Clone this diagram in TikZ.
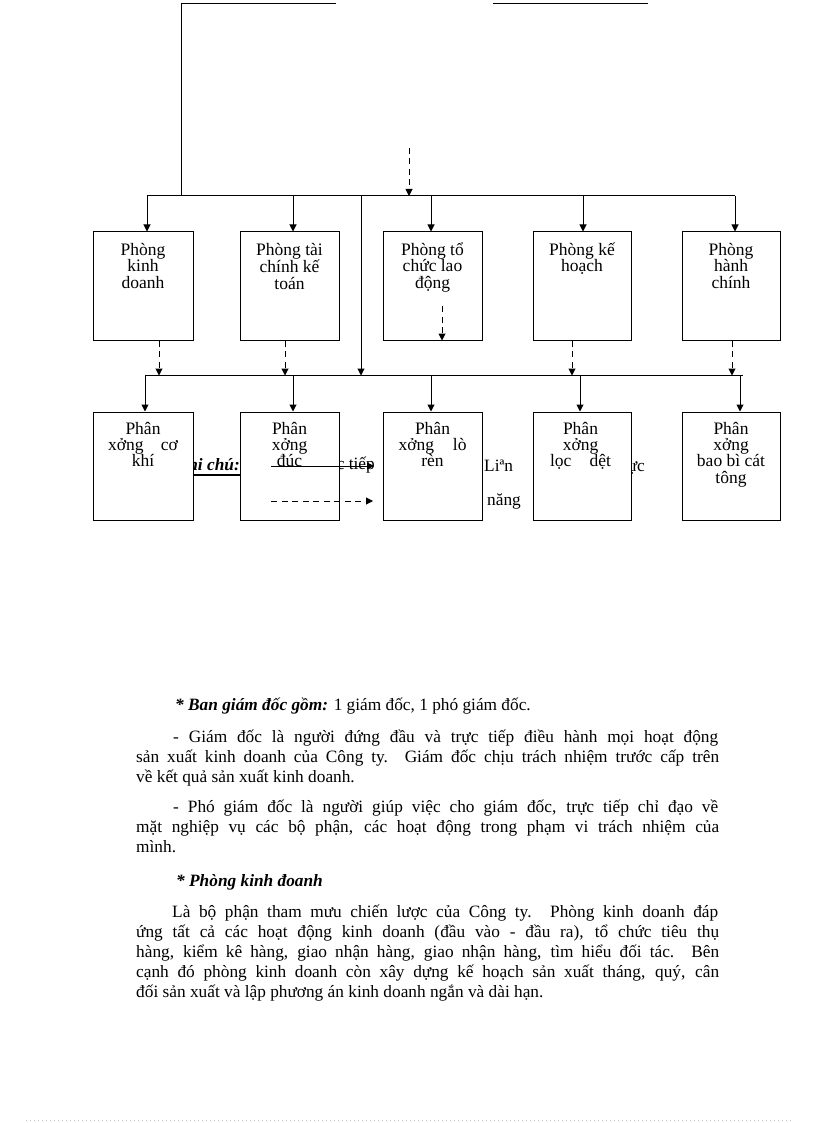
\documentclass[tikz,border=0pt]{standalone}
\usepackage{fontspec}
\setmainfont{Liberation Serif}
\usetikzlibrary{arrows.meta}
\begin{document}
\begin{tikzpicture}[x=1pt,y=-1pt,
  box/.style={draw,line width=1pt,fill=white,minimum width=99pt,minimum height=108pt,inner sep=0pt},
  arr/.style={line width=1pt,-{Triangle[length=7pt,width=7pt]}},
  darr/.style={arr,dash pattern=on 6pt off 4.5pt},
  ln/.style={line width=1pt},
  lbl/.style={inner sep=0pt,anchor=base,font=\fontsize{17.5}{16.4}\selectfont},
  leg/.style={inner sep=0pt,font=\fontsize{17.3}{20}\selectfont},
  body/.style={inner sep=0pt,anchor=base west,font=\fontsize{17.3}{20}\selectfont},
]
\useasboundingbox (0,0) rectangle (816,1123);

% legend remnants (partly hidden behind the boxes)
\node[leg,anchor=base east] (g1) at (240,470) {\textbf{\textit{Ghi chú:}}};
\coordinate (thA) at (180,475);
\coordinate (thB) at (252,475);
\draw[line width=2.2pt] (thA) -- (thB);
\node[leg,anchor=base east] (g2) at (375,469) {Trực tiếp};
\node[leg,anchor=base west] (g3) at (484,471) {Liªn};
\node[leg,anchor=base west] (g4) at (487,505) {năng};
\node[leg,anchor=base east] (g5) at (645,471) {trực};

% top remnant lines
\coordinate (tl1) at (181,4);
\coordinate (tl2) at (336,4);
\coordinate (tr1) at (493,4);
\coordinate (tr2) at (648,4);
\draw[ln] (tl2) -- (tl1) -- (181,196);
\draw[ln] (tr1) -- (tr2);

% boxes
\node[box,minimum width=100pt] (b1) at (143,286) {};
\node[box] (b2) at (289.5,286) {};
\node[box] (b3) at (432.5,286) {};
\node[box,minimum width=98pt] (b4) at (582,286) {};
\node[box,minimum width=98pt] (b5) at (731,286) {};
\node[box,minimum width=100pt] (c1) at (143,466) {};
\node[box] (c2) at (289.5,466) {};
\node[box] (c3) at (432.5,466) {};
\node[box,minimum width=98pt] (c4) at (582,466) {};
\node[box,minimum width=98pt] (c5) at (731,466) {};

% box texts
\node[lbl] (t1) at (143,255.5) {\parbox[t]{95pt}{\centering Phòng\\kinh\\doanh}};
\node[lbl] (t2) at (289.5,255.5) {\parbox[t]{95pt}{\centering Phòng tài\\chính kế\\toán}};
\node[lbl] (t3) at (432.5,255.5) {\parbox[t]{95pt}{\centering Phòng tổ\\chức lao\\động}};
\node[lbl] (t4) at (582,255.5) {\parbox[t]{95pt}{\centering Phòng kế\\hoạch}};
\node[lbl] (t5) at (731,255.5) {\parbox[t]{95pt}{\centering Phòng\\hành\\chính}};
\node[lbl] (s1) at (143,434) {\parbox[t]{95pt}{\centering Phân\\\makebox[70pt][s]{xởng cơ}\\khí}};
\node[lbl] (s2) at (289.5,434) {\parbox[t]{95pt}{\centering Phân\\xởng\\đúc}};
\node[lbl] (s3) at (432.5,434) {\parbox[t]{95pt}{\centering Phân\\\makebox[68pt][s]{xởng lò}\\rèn}};
\node[lbl] (s4) at (580.5,434) {\parbox[t]{95pt}{\centering Phân\\xởng\\\makebox[61pt][s]{lọc dệt}}};
\node[lbl] (s5) at (731,434) {\parbox[t]{95pt}{\centering Phân\\xởng\\bao bì cát\\tông}};

% top bus
\coordinate (tbL) at (147,196);
\coordinate (tbR) at (735,196);
\draw[ln] (tbL) -- (tbR);
\coordinate (dtop) at (409,148);
\draw[darr] (dtop) -- (409,196);
\coordinate (ta1) at (147,196);
\coordinate (ta2) at (293,196);
\coordinate (ta3) at (431,196);
\coordinate (ta4) at (583,196);
\coordinate (ta5) at (735,196);
\draw[arr] (ta1) -- (ta1 |- b1.north);
\draw[arr] (ta2) -- (ta2 |- b2.north);
\draw[arr] (ta3) -- (ta3 |- b3.north);
\draw[arr] (ta4) -- (ta4 |- b4.north);
\draw[arr] (ta5) -- (ta5 |- b5.north);

% bottom bus
\coordinate (bbL) at (145,375.5);
\coordinate (bbR) at (743,375.5);
\draw[ln] (bbL) -- (bbR);
\coordinate (vm) at (361,196);
\draw[arr] (vm) -- (vm |- bbL);

% dashed links from upper boxes
\coordinate (d1) at (159,340);
\coordinate (d2) at (285,340);
\coordinate (d4) at (572,340);
\coordinate (d5) at (732,340);
\draw[darr] (d1 |- b1.south) -- (d1 |- bbL);
\draw[darr] (d2 |- b2.south) -- (d2 |- bbL);
\draw[darr] (d4 |- b4.south) -- (d4 |- bbL);
\draw[darr] (d5 |- b5.south) -- (d5 |- bbL);
\coordinate (d3) at (442,306);
\draw[darr] (d3) -- (d3 |- b3.south);

% arrows to workshops
\coordinate (ba1) at (145,375.5);
\coordinate (ba2) at (293,375.5);
\coordinate (ba3) at (431,375.5);
\coordinate (ba4) at (580,375.5);
\coordinate (ba5) at (740,375.5);
\draw[arr] (ba1) -- (ba1 |- c1.north);
\draw[arr] (ba2) -- (ba2 |- c2.north);
\draw[arr] (ba3) -- (ba3 |- c3.north);
\draw[arr] (ba4) -- (ba4 |- c4.north);
\draw[arr] (ba5) -- (ba5 |- c5.north);

% legend arrows
\coordinate (la1) at (271,466);
\coordinate (la2) at (374,466);
\coordinate (lb1) at (271,501);
\coordinate (lb2) at (373,501);
\draw[arr] (la1) -- (la2);
\draw[darr] (lb1) -- (lb2);

% body text
\node[body] (p1) at (175,710) {\textbf{\textit{* Ban giám đốc gồm:}} 1 giám đốc, 1 phó giám đốc.};
\node[body] (p2) at (173,742) {\makebox[545pt][s]{- Giám đốc là người đứng đầu và trực tiếp điều hành mọi hoạt động}};
\node[body] (p3) at (136,762) {\makebox[583pt][s]{sản xuất kinh doanh của Công ty. Giám đốc chịu trách nhiệm trước cấp trên}};
\node[body] (p4) at (136,782) {về kết quả sản xuất kinh doanh.};
\node[body] (p5) at (173,812) {\makebox[545pt][s]{- Phó giám đốc là người giúp việc cho giám đốc, trực tiếp chỉ đạo về}};
\node[body] (p6) at (136,832) {\makebox[583pt][s]{mặt nghiệp vụ các bộ phận, các hoạt động trong phạm vi trách nhiệm của}};
\node[body] (p7) at (136,852) {mình.};
\node[body] (h2) at (176,886) {\textbf{\textit{* Phòng kinh đoanh}}};
\node[body] (q1) at (172,917) {\makebox[546pt][s]{Là bộ phận tham mưu chiến lược của Công ty. Phòng kinh doanh đáp}};
\node[body] (q2) at (136,937) {\makebox[583pt][s]{ứng tất cả các hoạt động kinh doanh (đầu vào - đầu ra), tổ chức tiêu thụ}};
\node[body] (q3) at (136,957) {\makebox[583pt][s]{hàng, kiểm kê hàng, giao nhận hàng, giao nhận hàng, tìm hiểu đối tác. Bên}};
\node[body] (q4) at (136,977) {\makebox[583pt][s]{cạnh đó phòng kinh doanh còn xây dựng kế hoạch sản xuất tháng, quý, cân}};
\node[body] (q5) at (136,997) {đối sản xuất và lập phương án kinh doanh ngắn và dài hạn.};

% faint page edge
\coordinate (e1) at (26,1120);
\coordinate (e2) at (792,1120);
\draw[gray!50,line width=0.6pt,dash pattern=on 1pt off 3pt] (e1) -- (e2);
\end{tikzpicture}
\end{document}
